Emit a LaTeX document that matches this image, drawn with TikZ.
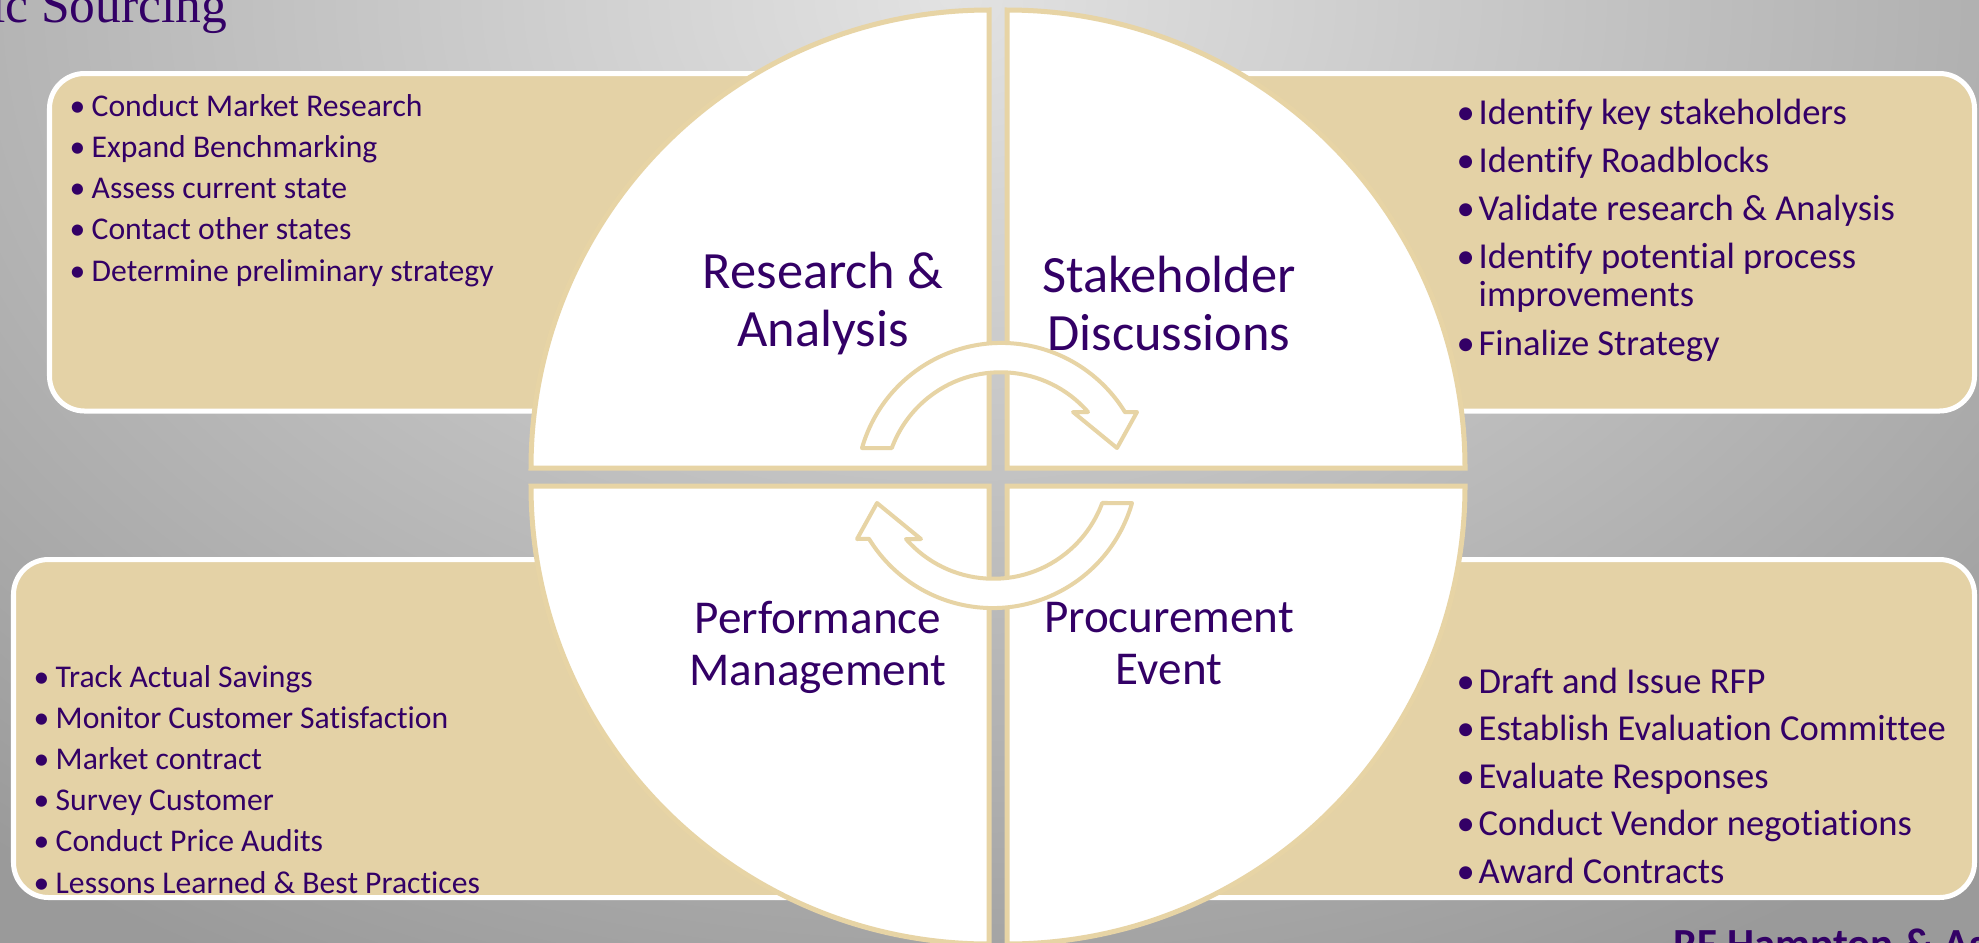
\documentclass[tikz,border=0pt]{standalone}
\usepackage{fontspec}
\setmainfont{Carlito}[Ligatures=NoCommon]
\newfontfamily\titlefont{Liberation Serif}

\definecolor{ink}{HTML}{330066}
\definecolor{sand}{HTML}{E4D2A6}
\definecolor{sandline}{HTML}{E7D4A5}
\definecolor{bglight}{HTML}{E2E2E2}
\definecolor{bgdark}{HTML}{9A9A9A}

\newcommand{\bul}{\makebox[0.22cm][l]{\textbullet}}
\newcommand{\leftfont}{\fontsize{9}{11.67}\selectfont}
\newcommand{\rightfont}{\fontsize{10.4}{10.8}\selectfont}
\newcommand{\stagefont}{\fontsize{14.9}{16.5}\selectfont}
\newcommand{\lowstagefont}{\fontsize{13.4}{14.8}\selectfont}

\tikzset{
  taskbox/.style={fill=sand, draw=white, line width=0.05cm, rounded corners=0.35cm},
  quarter/.style={fill=white, draw=sandline, line width=0.05cm},
  arrowband/.style={fill=white, draw=sandline, line width=0.04cm, line join=round},
  % lists are placed by the baseline of their last line
  listtext/.style={anchor=base west, align=left, text=ink, inner sep=0pt},
  stage/.style={align=center, text=ink, inner sep=0pt},
  turnarrow/.pic={
    \draw[arrowband] (-135,27.5) arc[start angle=164, end angle=31.5, radius=145]
      -- (140,63.5) -- (120,27.5) -- (76,63.5) -- (91,63.5)
      arc[start angle=41.1, end angle=159.7, radius=116] -- cycle;
  }
}

\begin{document}
\begin{tikzpicture}[x=0.01cm, y=0.01cm]
        \useasboundingbox (0,-942) rectangle (1979,0);
        \clip (0,-942) rectangle (1979,0);
        \shade[inner color=bglight, outer color=bgdark] (-550,-1100) rectangle (2450,1100);

        % task boxes behind the wheel
        \draw[taskbox] (49.5,-73.5) rectangle (950,-411);
        \draw[taskbox] (1045,-73.5) rectangle (1974.5,-411);
        \draw[taskbox] (13.5,-559.5) rectangle (950,-897.5);
        \draw[taskbox] (1045,-559.5) rectangle (1974.5,-897.5);

        % the four quarters
        \draw[quarter] (989,-468) -- ++(-458,0) arc[start angle=180, end angle=90, radius=458] -- cycle;
        \draw[quarter] (1007,-468) -- ++(0,458) arc[start angle=90, end angle=0, radius=458] -- cycle;
        \draw[quarter] (989,-486) -- ++(0,-458) arc[start angle=270, end angle=180, radius=458] -- cycle;
        \draw[quarter] (1007,-486) -- ++(458,0) arc[start angle=0, end angle=-90, radius=458] -- cycle;

        % turning arrows in the middle
        \pic at (997,-475.5) {turnarrow};
        \pic[rotate=180] at (997,-475.5) {turnarrow};

        \node[stage, font=\stagefont] (research) at (823,-303.5) {Research \&\\Analysis};
        \node[stage, font=\stagefont] (stake) at (1169,-303.7) {Stakeholder\\Discussions};
        \node[stage, font=\lowstagefont] (perf) at (818,-647) {Performance\\Management};
        \node[stage, font=\lowstagefont] (procure) at (1169,-644) {Procurement\\Event};

        \node[listtext, font=\leftfont] (researchlist) at (69,-281) {\bul Conduct Market Research\\
                \bul Expand Benchmarking\\ \bul Assess current state\\
                \bul Contact other states\\ \bul Determine preliminary strategy};
        \node[listtext, font=\rightfont] (stakelist) at (1456,-355) {\bul Identify key stakeholders\\[2.9pt]
                \bul Identify Roadblocks\\[2.9pt] \bul Validate research \& Analysis\\[2.9pt]
                \bul Identify potential process\\ \hspace*{0.22cm}improvements\\[2.9pt]
                \bul Finalize Strategy};
        \node[listtext, font=\leftfont] (perflist) at (33,-893) {\bul Track Actual Savings\\
                \bul Monitor Customer Satisfaction\\ \bul Market contract\\
                \bul Survey Customer\\ \bul Conduct Price Audits\\
                \bul Lessons Learned \& Best Practices};
        \node[listtext, font=\rightfont] (procurelist) at (1456,-883) {\bul Draft and Issue RFP\\[2.7pt]
                \bul Establish Evaluation Committee\\[2.7pt] \bul Evaluate Responses\\[2.7pt]
                \bul Conduct Vendor negotiations\\[2.7pt] \bul Award Contracts};

        \node[anchor=base east, inner sep=0pt, text=ink, font=\titlefont\fontsize{14.65}{16}\selectfont] (title) at (228,-22) {Strategic Sourcing};
        \node[anchor=base west, inner sep=0pt, text=ink, font=\bfseries\fontsize{12.2}{14}\selectfont] (firm) at (1673,-958) {RF Hampton \& Associates};
\end{tikzpicture}
\end{document}
